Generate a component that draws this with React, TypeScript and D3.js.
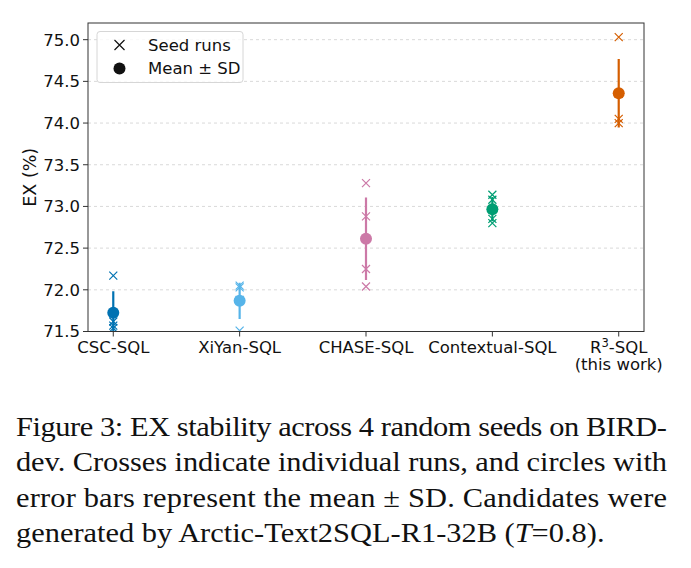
import * as d3 from "d3";

// methods on the x axis, in plotting order
const methods = ["CSC-SQL", "XiYan-SQL", "CHASE-SQL", "Contextual-SQL", "R3-SQL"];
const colors = ["#0072B2", "#56B4E9", "#CC79A7", "#009E73", "#D55E00"];

// EX (%) of each seed run, 4 seeds per method
const seedRuns = [
  [72.17, 71.62, 71.57, 71.54],
  [72.05, 72.03, 71.88, 71.51],
  [73.28, 72.88, 72.25, 72.04],
  [73.14, 73.08, 72.85, 72.8],
  [75.03, 74.35, 74.05, 74.0],
];

const yTicks = [71.5, 72.0, 72.5, 73.0, 73.5, 74.0, 74.5, 75.0];

const captionLines = [
  "Figure 3: EX stability across 4 random seeds on BIRD-",
  "dev. Crosses indicate individual runs, and circles with",
  "error bars represent the mean \u00b1 SD. Candidates were",
];

const W = 691;
const H = 568;
const PLOT = { left: 88, right: 644, top: 23, bottom: 331.5 };
const FONT = "DejaVu Sans, sans-serif";
const FS = 16.5;
// caption is set slightly wide
const CAP_SX = 1.127;

function Cross({ x, y, color, s = 4 }: { x: number; y: number; color: string; s?: number }) {
  return (
    <path
      d={`M${x - s},${y - s}L${x + s},${y + s}M${x - s},${y + s}L${x + s},${y - s}`}
      stroke={color}
      strokeWidth={1.2}
      fill="none"
    />
  );
}

function StabilityChart() {
  const x = d3.scaleLinear().domain([-0.2, methods.length - 0.8]).range([PLOT.left, PLOT.right]);
  const y = d3.scaleLinear().domain([71.5, 75.2]).range([PLOT.bottom, PLOT.top]);

  const stats = seedRuns.map((runs) => {
    const m = d3.mean(runs) as number;
    const sd = Math.sqrt(d3.mean(runs, (v) => (v - m) ** 2) as number);
    return { m, sd };
  });

  return (
    <svg width={W} height={H} style={{ position: "absolute", left: 0, top: 0 }}>
      <rect width={W} height={H} fill="#fff" />
      <defs>
        <clipPath id="plot-area">
          <rect x={PLOT.left} y={PLOT.top} width={PLOT.right - PLOT.left} height={PLOT.bottom - PLOT.top} />
        </clipPath>
      </defs>

      {/* grid */}
      {yTicks.map((t) => (
        <line
          key={"g" + t}
          x1={PLOT.left}
          x2={PLOT.right}
          y1={y(t)}
          y2={y(t)}
          stroke="#cfcfcf"
          strokeWidth={0.8}
          strokeDasharray="3,3"
        />
      ))}

      {/* marks */}
      <g clipPath="url(#plot-area)">
        {seedRuns.map((runs, i) => (
          <g key={methods[i]}>
            {runs.map((v, j) => (
              <Cross key={j} x={x(i)} y={y(v)} color={colors[i]} />
            ))}
            <line
              x1={x(i)}
              x2={x(i)}
              y1={y(stats[i].m - stats[i].sd)}
              y2={y(stats[i].m + stats[i].sd)}
              stroke={colors[i]}
              strokeWidth={2.2}
            />
            <circle cx={x(i)} cy={y(stats[i].m)} r={6} fill={colors[i]} />
          </g>
        ))}
      </g>

      {/* frame */}
      <rect
        x={PLOT.left}
        y={PLOT.top}
        width={PLOT.right - PLOT.left}
        height={PLOT.bottom - PLOT.top}
        fill="none"
        stroke="#333"
        strokeWidth={1}
      />

      {/* y axis */}
      {yTicks.map((t) => (
        <g key={"y" + t}>
          <line x1={PLOT.left - 5} x2={PLOT.left} y1={y(t)} y2={y(t)} stroke="#333" strokeWidth={1} />
          <text x={PLOT.left - 8} y={y(t)} dy="0.36em" textAnchor="end" fontFamily={FONT} fontSize={FS} fill="#111">
            {t.toFixed(1)}
          </text>
        </g>
      ))}
      <text
        transform={`translate(30,${(PLOT.top + PLOT.bottom) / 2}) rotate(-90)`}
        textAnchor="middle"
        dy="0.36em"
        fontFamily={FONT}
        fontSize={17.5}
        fill="#111"
      >
        EX (%)
      </text>

      {/* x axis */}
      {methods.map((name, i) => (
        <g key={"x" + name}>
          <line x1={x(i)} x2={x(i)} y1={PLOT.bottom} y2={PLOT.bottom + 5} stroke="#333" strokeWidth={1} />
          {name === "R3-SQL" ? (
            <text x={x(i)} y={PLOT.bottom + 21} textAnchor="middle" fontFamily={FONT} fontSize={FS} fill="#111">
              <tspan>R</tspan>
              <tspan fontSize={11.5} dy={-6}>3</tspan>
              <tspan dy={6}>-SQL</tspan>
              <tspan x={x(i)} dy={17.5}>(this work)</tspan>
            </text>
          ) : (
            <text x={x(i)} y={PLOT.bottom + 21} textAnchor="middle" fontFamily={FONT} fontSize={FS} fill="#111">
              {name}
            </text>
          )}
        </g>
      ))}

      {/* legend */}
      <g>
        <rect x={97} y={31.5} width={146} height={51} rx={3} fill="#fff" fillOpacity={0.8} stroke="#d6d6d6" strokeWidth={1} />
        <Cross x={119.5} y={45} color="#111" s={5} />
        <text x={148} y={45} dy="0.36em" fontFamily={FONT} fontSize={FS} fill="#111">
          Seed runs
        </text>
        <circle cx={119.5} cy={68.5} r={6} fill="#111" />
        <text x={148} y={68.5} dy="0.36em" fontFamily={FONT} fontSize={FS} fill="#111">
          Mean ± SD
        </text>
      </g>

      {/* caption */}
      <g
        transform={`translate(16,0) scale(${CAP_SX},1)`}
        fontFamily="Liberation Serif, Times New Roman, serif"
        fontSize={27}
        fill="#111"
      >
        {captionLines.map((line, i) => (
          <text key={i} x={0} y={436 + i * 35.3} textLength={651 / CAP_SX} lengthAdjust="spacing">
            {line}
          </text>
        ))}
        <text x={0} y={436 + 3 * 35.3}>
          generated by Arctic-Text2SQL-R1-32B (<tspan fontStyle="italic">T</tspan>=0.8).
        </text>
      </g>
    </svg>
  );
}

export default function App() {
  return <StabilityChart />;
}
